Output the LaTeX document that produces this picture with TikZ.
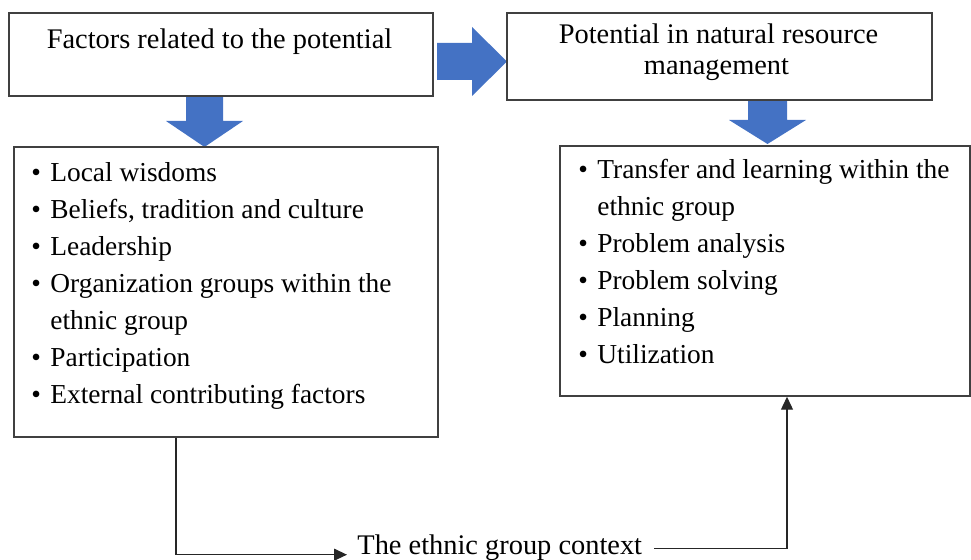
\documentclass[tikz,border=0pt]{standalone}
\usepackage{fontspec}
\setmainfont{Liberation Serif}
\usetikzlibrary{arrows.meta,shapes}
\tikzstyle{fbox}=[rectangle,draw=black!75,line width=0.75pt,inner sep=0pt]
\tikzstyle{ftxt}=[inner sep=0pt,font=\fontsize{14.2}{18.5}\selectfont]
\tikzstyle{flist}=[inner sep=0pt,font=\fontsize{13.7}{18.5}\selectfont]
\tikzstyle{blk}=[fill={rgb,255:red,68;green,114;blue,196}]
\tikzstyle{conn}=[-{Triangle[length=6.5pt,width=6pt]}, line width=0.65pt, black!85]
\newcommand{\itm}{\makebox[9.5pt][l]{\textbullet}}

\begin{document}
\begin{tikzpicture}[x=0.5pt,y=-0.5pt]
\useasboundingbox (0,0) rectangle (971,560);
\fill[blk] (437,43) -- (472,43) -- (472,27) -- (507,61.5) -- (472,96) -- (472,80) -- (437,80) -- cycle;
\fill[blk] (186,96) -- (223,96) -- (223,121) -- (243,121) -- (204.5,147) -- (166,121) -- (186,121) -- cycle;
\fill[blk] (748,100) -- (787,100) -- (787,120) -- (806,120) -- (767.5,144) -- (729,120) -- (748,120) -- cycle;
\node[fbox,minimum width=212pt,minimum height=41.5pt] (fac) at (221,54.5) {};
\node[ftxt,anchor=base] (factxt) at (219.5,49) {Factors related to the potential};
\node[fbox,minimum width=212.5pt,minimum height=43.5pt] (pot) at (719.5,56.5) {};
\node[ftxt,anchor=base] (pottxt) at (718.5,44) {Potential in natural resource};
\node[ftxt,anchor=base] (pottxtb) at (716.5,75) {management};
\node[fbox,minimum width=212pt,minimum height=145pt] (fact) at (226,292) {};
\node[flist,anchor=base west] (factlist) at (31,182) {\begin{tabular}[t]{@{}l@{}}\itm Local wisdoms\\ \itm Beliefs, tradition and culture\\ \itm Leadership\\ \itm Organization groups within the\\ \hspace{9.5pt}ethnic group\\ \itm Participation\\ \itm External contributing factors\end{tabular}};
\node[fbox,minimum width=205pt,minimum height=125pt] (res) at (765,271) {};
\node[flist,anchor=base west] (reslist) at (578,179) {\begin{tabular}[t]{@{}l@{}}\itm Transfer and learning within the\\ \hspace{9.5pt}ethnic group\\ \itm Problem analysis\\ \itm Problem solving\\ \itm Planning\\ \itm Utilization\end{tabular}};
\node[ftxt,anchor=base west] (ctx) at (357,555) {The ethnic group context};
\draw[conn] ([xshift=-25pt]fact.south) |- ([xshift=-5pt,yshift=-3.25pt]ctx.west);
\draw[conn] ([xshift=6pt]ctx.east) -| ([xshift=11pt]res.south);
\end{tikzpicture}
\end{document}
